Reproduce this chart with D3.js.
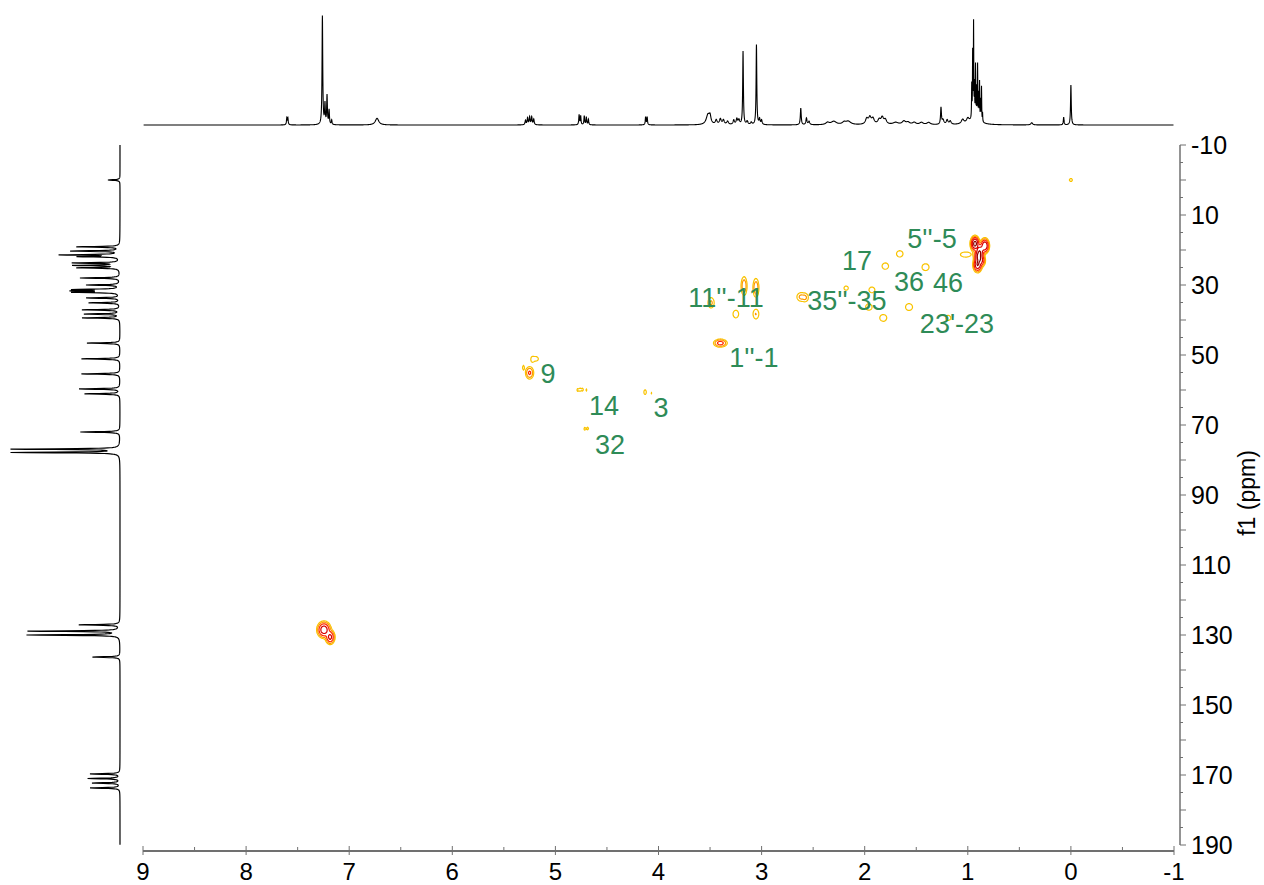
<!DOCTYPE html>
<html>
<head>
<meta charset="utf-8">
<script src="https://cdn.jsdelivr.net/npm/d3@7"></script>
<style>
  body { margin: 0; background: #fff; }
  text { font-family: "Liberation Sans", Arial, sans-serif; }
</style>
</head>
<body>
<div class="chart"></div>
<script>
// 1H projection (top): ppm, relative height, half width (ppm)
var protonPpm = [7.605, 7.595, 7.26, 7.235, 7.215, 7.195, 7.17, 6.73,
  5.29, 5.27, 5.25, 5.23, 5.21, 4.77, 4.755, 4.72, 4.70, 4.68, 4.125, 4.11,
  3.52, 3.50, 3.44, 3.40, 3.37, 3.33, 3.27, 3.24, 3.22, 3.18, 3.14, 3.10, 3.05, 3.02, 3.00,
  2.62, 2.565, 2.54, 2.36, 2.30, 2.20, 2.16, 1.98, 1.95, 1.92, 1.86, 1.83, 1.80,
  1.70, 1.62, 1.58, 1.52, 1.45, 1.38, 1.26, 1.24, 1.20, 1.17, 1.05, 1.00,
  0.962, 0.953, 0.944, 0.935, 0.925, 0.915, 0.905, 0.895, 0.886, 0.876, 0.867, 0.857,
  0.93, 0.38, 0.07, 0.00];
var protonHeight = [6, 6, 98, 18, 26, 13, 4, 6,
  4, 6, 7, 7, 5, 9, 8, 8, 7, 5, 7, 7,
  9, 6, 4, 5, 4, 3, 4, 5, 4, 66, 3, 2, 72, 5, 4,
  15, 6, 3, 2, 3, 2, 3, 5, 6, 5, 4, 6, 4,
  2, 3, 2, 2, 2, 2, 15, 4, 4, 3, 4, 4,
  30, 58, 84, 28, 46, 26, 48, 22, 34, 18, 31, 8,
  6, 2, 7, 36];
var protonWidth = [0.004, 0.004, 0.004, 0.004, 0.004, 0.004, 0.004, 0.02,
  0.005, 0.005, 0.005, 0.005, 0.005, 0.004, 0.004, 0.004, 0.004, 0.004, 0.004, 0.004,
  0.02, 0.01, 0.01, 0.01, 0.01, 0.01, 0.008, 0.008, 0.008, 0.004, 0.008, 0.008, 0.004, 0.006, 0.006,
  0.005, 0.006, 0.008, 0.02, 0.03, 0.02, 0.03, 0.015, 0.015, 0.015, 0.015, 0.015, 0.015,
  0.03, 0.02, 0.02, 0.02, 0.02, 0.02, 0.005, 0.01, 0.01, 0.01, 0.015, 0.015,
  0.002, 0.002, 0.002, 0.002, 0.002, 0.002, 0.002, 0.002, 0.002, 0.002, 0.002, 0.002,
  0.05, 0.01, 0.004, 0.004];

// 13C projection (left): ppm and relative height
var carbonPpm = [0.0, 19.1, 20.3, 21.4, 21.9, 23.7, 24.4, 25.1, 28.0, 30.0, 31.3, 31.7, 32.1,
  33.7, 35.1, 37.1, 38.3, 39.4, 46.6, 51.1, 55.4, 59.7, 61.1, 72.0, 76.9, 77.85,
  127.1, 128.9, 130.0, 136.3, 169.7, 171.0, 172.3, 173.7];
var carbonHeight = [11, 39, 44, 53, 36, 42, 41, 38, 36, 30, 40, 39, 40,
  30, 28, 34, 32, 34, 30, 35, 35, 37, 32, 36, 98, 98,
  37, 83, 84, 25, 27, 29, 25, 27];

// HSQC cross peaks: 1H ppm, 13C ppm, intensity, widths (ppm)
var peakH = [0.00, 0.93, 0.835, 0.88, 0.895, 0.905, 0.87, 1.02,
  1.66, 1.80, 1.41, 2.18, 1.93, 1.96, 1.82, 1.57, 1.19,
  2.62, 2.575, 3.17, 3.055, 3.49, 3.25, 3.055, 3.40,
  5.25, 5.19, 5.31, 5.225, 4.785, 4.76, 4.735, 4.70, 4.13, 4.07, 4.715, 4.685,
  7.245, 7.185];
var peakC = [0.0, 18.2, 18.8, 20.2, 21.8, 24.2, 23.0, 21.3,
  21.1, 24.6, 24.9, 30.9, 31.4, 36.3, 39.4, 36.3, 39.4,
  33.4, 33.6, 30.3, 30.8, 35.1, 38.3, 38.3, 46.6,
  55.1, 51.1, 53.6, 51.3, 60.0, 59.9, 59.9, 60.0, 60.6, 60.9, 71.1, 71.0,
  128.5, 130.6];
var peakAmp = [1.3, 40, 30, 22, 35, 30, 15, 1.7,
  1.5, 1.5, 1.6, 1.2, 1.4, 1.5, 1.6, 1.6, 1.3,
  3.0, 2.6, 5, 5, 3.0, 1.8, 2.6, 9,
  7, 1.4, 1.3, 1.2, 1.2, 1.25, 1.2, 1.15, 1.4, 1.1, 1.25, 1.2,
  25, 18];
var peakWH = [0.02, 0.018, 0.018, 0.018, 0.018, 0.018, 0.018, 0.05,
  0.035, 0.035, 0.035, 0.035, 0.035, 0.035, 0.035, 0.035, 0.035,
  0.025, 0.02, 0.016, 0.016, 0.02, 0.025, 0.02, 0.032,
  0.02, 0.03, 0.012, 0.012, 0.01, 0.01, 0.01, 0.01, 0.015, 0.01, 0.012, 0.01,
  0.028, 0.02];
var peakWC = [0.6, 0.9, 0.9, 0.9, 1.0, 0.9, 0.8, 0.7,
  1.0, 1.0, 1.0, 1.0, 1.0, 1.0, 1.0, 1.0, 1.0,
  0.8, 0.8, 1.5, 1.5, 1.0, 1.0, 1.0, 0.55,
  0.9, 0.8, 0.9, 0.7, 0.6, 0.6, 0.6, 0.6, 0.8, 0.5, 0.6, 0.6,
  1.0, 0.9];

var levels = [1, 2.5, 6, 14, 30];
var levelColors = ["#f9c300", "#ff9800", "#ff2a00", "#d40000", "#8b0000"];

// assignments
var labelText = ["5''-5", "17", "36", "46", "11''-11", "35''-35", "23'-23", "1''-1", "9", "14", "3", "32"];
var labelH = [1.347, 2.075, 1.570, 1.192, 3.345, 2.172, 1.105, 3.074, 5.072, 4.529, 3.976, 4.470];
var labelC = [16.6, 23.1, 29.1, 29.4, 33.7, 34.3, 40.9, 50.6, 55.4, 64.3, 65.1, 75.7];

var xTicks = [9, 8, 7, 6, 5, 4, 3, 2, 1, 0, -1];
var yTicks = [-10, 10, 30, 50, 70, 90, 110, 130, 150, 170, 190];

var svgWidth = 1264;
var svgHeight = 885;

var svg = d3.select(".chart")
  .append("svg")
  .attr("width", svgWidth)
  .attr("height", svgHeight);

var x = d3.scaleLinear().domain([9, -1]).range([143, 1174]);
var y = d3.scaleLinear().domain([-10, 190]).range([145, 845]);
var topY = d3.scaleLinear().domain([0, 100]).range([125, 14]);
var leftX = d3.scaleLinear().domain([0, 100]).range([120, 10]);

// lorentzian sum for a projection
function spectrum(ppms, heights, widths, lo, hi, step) {
  var pts = [];
  var samples = d3.range(lo, hi, step).concat(ppms.filter(p => p > lo && p < hi));
  samples.sort((a, b) => a - b);
  samples.forEach(function(p) {
    var v = 0;
    for (var i = 0; i < ppms.length; i++) {
      var d = (p - ppms[i]) / widths[i];
      v += heights[i] / (1 + d * d);
    }
    pts.push([p, v]);
  });
  return pts;
}

// top 1H trace
var topPts = spectrum(protonPpm, protonHeight, protonWidth, -0.995, 8.995, 0.001);
svg.append("path")
  .datum(topPts)
  .attr("fill", "none")
  .attr("stroke", "#000")
  .attr("stroke-width", 1.1)
  .attr("d", d3.line().x(d => x(d[0])).y(d => topY(d[1])));

// left 13C trace
var cWidths = carbonPpm.map(() => 0.12);
var leftPts = spectrum(carbonPpm, carbonHeight, cWidths, -10, 190, 0.05);
svg.append("path")
  .datum(leftPts)
  .attr("fill", "none")
  .attr("stroke", "#000")
  .attr("stroke-width", 1.2)
  .attr("d", d3.line().x(d => leftX(d[1])).y(d => y(d[0])));

// contour grid over the plot area
var x0 = x(9), y0 = y(-10);
var W = Math.round(x(-1) - x0), H = Math.round(y(190) - y0);
var grid = new Float64Array(W * H);
for (var k = 0; k < peakH.length; k++) {
  var cx = x(peakH[k]) - x0, cy = y(peakC[k]) - y0;
  var sx = Math.abs(x(peakH[k] + peakWH[k]) - x(peakH[k]));
  var sy = Math.abs(y(peakC[k] + peakWC[k]) - y(peakC[k]));
  var i0 = Math.max(0, Math.floor(cx - 5 * sx)), i1 = Math.min(W - 1, Math.ceil(cx + 5 * sx));
  var j0 = Math.max(0, Math.floor(cy - 5 * sy)), j1 = Math.min(H - 1, Math.ceil(cy + 5 * sy));
  for (var j = j0; j <= j1; j++) {
    for (var i = i0; i <= i1; i++) {
      var dx = (i + 0.5 - cx) / sx, dy = (j + 0.5 - cy) / sy;
      grid[j * W + i] += peakAmp[k] * Math.exp(-0.5 * (dx * dx + dy * dy));
    }
  }
}

var contours = d3.contours().size([W, H]).thresholds(levels)(grid);
svg.append("g")
  .attr("transform", `translate(${x0}, ${y0})`)
  .selectAll("path")
  .data(contours)
  .enter()
  .append("path")
  .attr("d", d3.geoPath())
  .attr("fill", "none")
  .attr("stroke", (d, i) => levelColors[i])
  .attr("stroke-width", 1.2);

// labels
svg.selectAll(".assign")
  .data(labelText)
  .enter()
  .append("text")
  .attr("class", "assign")
  .attr("x", (d, i) => x(labelH[i]))
  .attr("y", (d, i) => y(labelC[i]) + 9.5)
  .attr("text-anchor", "middle")
  .attr("font-size", "27px")
  .attr("fill", "#2e8b57")
  .text(d => d);

// bottom axis
var axisColor = "#707070";
svg.append("line")
  .attr("x1", x(9)).attr("x2", x(-1))
  .attr("y1", 851).attr("y2", 851)
  .attr("stroke", axisColor).attr("stroke-width", 2);
svg.selectAll(".xminor")
  .data(d3.range(8.5, -1, -1))
  .enter()
  .append("line")
  .attr("x1", d => x(d)).attr("x2", d => x(d))
  .attr("y1", 847).attr("y2", 851)
  .attr("stroke", axisColor).attr("stroke-width", 1);
svg.selectAll(".xmajor")
  .data(xTicks)
  .enter()
  .append("line")
  .attr("x1", d => x(d)).attr("x2", d => x(d))
  .attr("y1", 846).attr("y2", 855)
  .attr("stroke", axisColor).attr("stroke-width", 1);
svg.selectAll(".xlabel")
  .data(xTicks)
  .enter()
  .append("text")
  .attr("x", d => x(d))
  .attr("y", 880)
  .attr("text-anchor", "middle")
  .attr("font-size", "24px")
  .attr("fill", "#000")
  .text(d => d);

// right axis
var axisX = 1180;
svg.append("line")
  .attr("x1", axisX).attr("x2", axisX)
  .attr("y1", y(-10)).attr("y2", y(190))
  .attr("stroke", axisColor).attr("stroke-width", 1.5);
svg.selectAll(".ytick")
  .data(d3.range(-10, 191, 5))
  .enter()
  .append("line")
  .attr("x1", axisX)
  .attr("x2", d => d % 10 === 0 ? axisX + 6 : axisX + 3)
  .attr("y1", d => y(d)).attr("y2", d => y(d))
  .attr("stroke", axisColor).attr("stroke-width", 1);
svg.selectAll(".ylabel")
  .data(yTicks)
  .enter()
  .append("text")
  .attr("x", 1191)
  .attr("y", d => y(d) + 9)
  .attr("font-size", "25px")
  .attr("fill", "#000")
  .text(d => d);

svg.append("text")
  .attr("transform", "translate(1255, 493) rotate(-90)")
  .attr("text-anchor", "middle")
  .attr("font-size", "23px")
  .attr("fill", "#000")
  .text("f1 (ppm)");
</script>
</body>
</html>
